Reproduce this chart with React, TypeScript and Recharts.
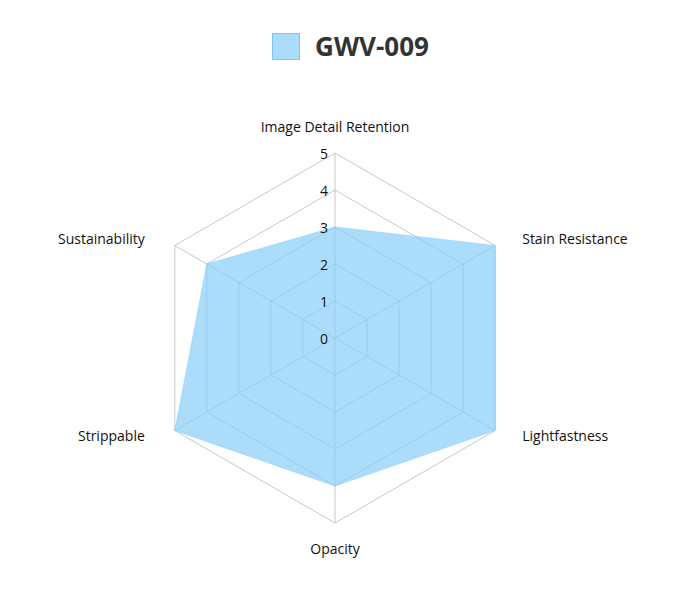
import React from "react";
import { RadarChart, Radar, PolarGrid, PolarAngleAxis, PolarRadiusAxis } from "recharts";

const categories = ["Image Detail Retention", "Stain Resistance", "Lightfastness", "Opacity", "Strippable", "Sustainability"];
const seriesName = "GWV-009";
const seriesValues = [3, 5, 5, 4, 5, 4];
const radiusTicks = [0, 1, 2, 3, 4, 5];

const data = categories.map((c, i) => ({ subject: c, value: seriesValues[i] }));

const W = 693;
const H = 615;
const CX = 327;
const CY = 330;
const R = 185;
const FONT = "'Open Sans', 'Noto Sans', sans-serif";

const AngleTick = (props: any) => {
  const { x, y, payload } = props;
  const dx = x - CX;
  const dy = y - CY;
  let tx = x;
  let ty = y;
  let anchor: "start" | "middle" | "end" = "middle";
  if (Math.abs(dx) < 1) {
    ty = dy < 0 ? CY - R - 27 : CY + R + 25;
  } else if (dx > 0) {
    tx = CX + R * 0.866 + 27;
    ty = dy < 0 ? CY - R / 2 - 7 : CY + R / 2 + 5;
    anchor = "start";
  } else {
    tx = CX - R * 0.866 - 30;
    ty = dy < 0 ? CY - R / 2 - 7 : CY + R / 2 + 5;
    anchor = "end";
  }
  return (
    <text x={tx} y={ty} textAnchor={anchor} dominantBaseline="central" fontSize={14} fill="#111" fontFamily={FONT}>
      {payload.value}
    </text>
  );
};

const RadiusTick = (props: any) => {
  const { x, y, payload } = props;
  return (
    <text x={x - 7} y={y} textAnchor="end" dominantBaseline="central" fontSize={14} fill="#111" fontFamily={FONT}>
      {payload.value}
    </text>
  );
};

export default function App() {
  return (
    <div style={{ width: W, height: H, position: "relative", background: "#fff" }}>
      <div
        style={{
          position: "absolute",
          top: 20,
          left: 0,
          width: W - 16,
          display: "flex",
          justifyContent: "center",
          alignItems: "center",
          fontFamily: FONT,
        }}
      >
        <div style={{ marginLeft: 8, display: "flex", alignItems: "center" }}>
          <span
            style={{
              display: "inline-block",
              width: 28,
              height: 27,
              background: "rgba(135,206,250,0.7)",
              border: "1px solid rgba(120,190,235,0.8)",
              boxSizing: "border-box",
              marginRight: 15,
            }}
          />
          <span style={{ fontSize: 26, fontWeight: 700, color: "#333" }}>{seriesName}</span>
        </div>
      </div>
      <RadarChart width={W - 16} height={H - 16} data={data} cx={CX} cy={CY} outerRadius={R} startAngle={90} endAngle={-270}>
        <PolarGrid gridType="polygon" stroke="#c8c8c8" />
        <PolarAngleAxis dataKey="subject" tick={<AngleTick />} tickLine={false} axisLine={false} />
        <PolarRadiusAxis
          angle={90}
          domain={[0, 5]}
          ticks={radiusTicks as any}
          tickCount={6}
          tick={<RadiusTick />}
          axisLine={false}
          tickLine={false}
        />
        <Radar
          name={seriesName}
          dataKey="value"
          fill="rgb(135,206,250)"
          fillOpacity={0.7}
          stroke="rgb(135,206,250)"
          strokeOpacity={0.5}
          isAnimationActive={false}
        />
      </RadarChart>
    </div>
  );
}
